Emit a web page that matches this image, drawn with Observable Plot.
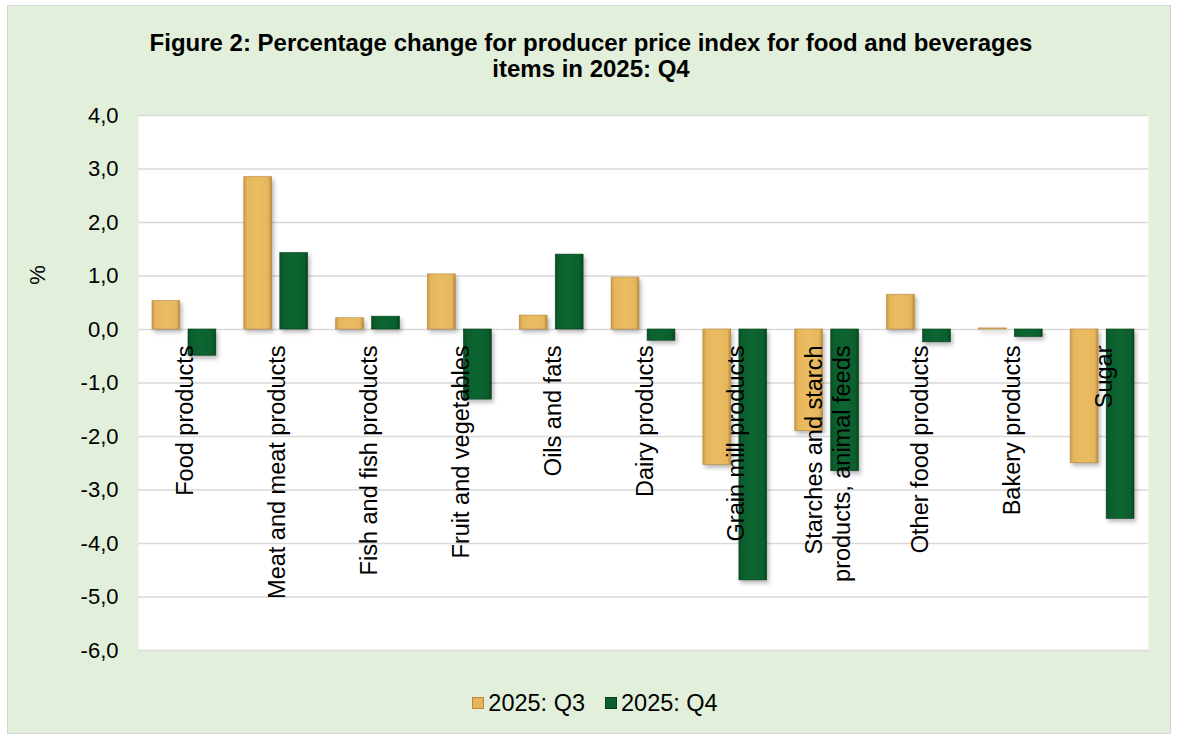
<!DOCTYPE html>
<html>
<head>
<meta charset="utf-8">
<script src="https://cdn.jsdelivr.net/npm/d3@7"></script>
<script src="https://cdn.jsdelivr.net/npm/@observablehq/plot@0.6"></script>
<style>
  body { margin: 0; background: #ffffff; font-family: "Liberation Sans", Arial, sans-serif; }
  #frame { position: absolute; left: 7px; top: 5px; width: 1162px; height: 727px; background: #e2efda; border: 1px solid #d4d4d4; }
  #title { position: absolute; left: 0; top: 30px; width: 1182px; text-align: center; font-weight: bold; font-size: 24px; line-height: 25.5px; color: #000; }
  #ylab { position: absolute; left: 28px; top: 262px; font-size: 22px; transform: rotate(-90deg); color: #000; }
  #chart { position: absolute; left: 0; top: 85px; }
  #legend { position: absolute; left: 0; top: 688px; width: 1190px; text-align: center; font-size: 23.5px; color: #000; }
  .item { display: inline-flex; align-items: center; margin: 0 10px; }
  .sw { display: inline-block; width: 12px; height: 12px; margin-right: 4px; box-sizing: border-box; }
  svg g[aria-label="bar"] rect { filter: drop-shadow(2px 3px 2px rgba(0,0,0,0.28)); }
</style>
</head>
<body>
<div id="frame"></div>
<div id="title">Figure 2: Percentage change for producer price index for food and beverages<br>items in 2025: Q4</div>
<div id="ylab">%</div>
<div id="chart"></div>
<div id="legend"></div>
<script>
const categories = ["Food products","Meat and meat products","Fish and fish products","Fruit and vegetables","Oils and fats","Dairy products","Grain mill products","Starches and starch products, animal feeds","Other food products","Bakery products","Sugar"];
const categoryLabels = ["Food products","Meat and meat products","Fish and fish products","Fruit and vegetables","Oils and fats","Dairy products","Grain mill products","Starches and starch\nproducts, animal feeds","Other food products","Bakery products","Sugar"];
const seriesNames = ["2025: Q3","2025: Q4"];
const q3 = [0.53, 2.85, 0.21, 1.03, 0.26, 0.97, -2.53, -1.90, 0.65, 0.02, -2.50];
const q4 = [-0.49, 1.43, 0.24, -1.31, 1.40, -0.21, -4.69, -2.65, -0.24, -0.14, -3.54];
const yTicks = [4, 3, 2, 1, 0, -1, -2, -3, -4, -5, -6];

const colors = {q3: "#e4b35a", q4: "#0b5f2d"};
const q3Data = categories.map((c, i) => ({cat: c, v: q3[i]}));
const q4Data = categories.map((c, i) => ({cat: c, v: q4[i]}));
const labelData = categories.map((c, i) => ({cat: c, label: categoryLabels[i]}));

const defs = () => {
  const ns = "http://www.w3.org/2000/svg";
  const d = document.createElementNS(ns, "defs");
  d.innerHTML = `
    <linearGradient id="gGold" x1="0" x2="1" y1="0" y2="0">
      <stop offset="0" stop-color="#c99a45"/>
      <stop offset="0.12" stop-color="#e6b65c"/>
      <stop offset="0.5" stop-color="#ebbd62"/>
      <stop offset="0.88" stop-color="#e6b65c"/>
      <stop offset="1" stop-color="#b88a3a"/>
    </linearGradient>
    <linearGradient id="gGreen" x1="0" x2="1" y1="0" y2="0">
      <stop offset="0" stop-color="#0a4f25"/>
      <stop offset="0.12" stop-color="#0b5f2d"/>
      <stop offset="0.5" stop-color="#0d6632"/>
      <stop offset="0.88" stop-color="#0b5f2d"/>
      <stop offset="1" stop-color="#08451f"/>
    </linearGradient>`;
  return d;
};

const fmt = d => d.toFixed(1).replace(".", ",");

const chart = Plot.plot({
  width: 1178,
  height: 600,
  marginTop: 30,
  marginBottom: 35,
  marginLeft: 138,
  marginRight: 30,
  style: {background: "transparent", fontFamily: "'Liberation Sans', Arial, sans-serif", color: "#000"},
  x: {type: "band", domain: categories, padding: 0, round: false, axis: null},
  y: {domain: [-6, 4], ticks: yTicks, tickFormat: fmt, tickSize: 0, tickPadding: 20, label: null, fontSize: 22},
  marks: [
    defs,
    Plot.frame({fill: "white", stroke: null}),
    Plot.gridY(yTicks, {stroke: "#d9d9d9", strokeOpacity: 1, strokeWidth: 1.5}),
    Plot.axisY({ticks: yTicks, tickFormat: fmt, tickSize: 0, tickPadding: 20, label: null, fontSize: 22}),
    Plot.barY(q3Data, {x: "cat", y: "v", fill: "url(#gGold)", stroke: "#b8893a", strokeWidth: 0.6, insetLeft: 14, insetRight: 50}),
    Plot.barY(q4Data, {x: "cat", y: "v", fill: "url(#gGreen)", stroke: "#064019", strokeWidth: 0.6, insetLeft: 50, insetRight: 14}),
    Plot.text(labelData, {x: "cat", y: () => 0, text: "label", rotate: -90, textAnchor: "end", lineAnchor: "middle", lineHeight: 1.2, dy: 16, fontSize: 23.5, fill: "#000"})
  ]
});
document.getElementById("chart").appendChild(chart);

const legend = document.getElementById("legend");
[[colors.q3, "#b8893a"], [colors.q4, "#064019"]].forEach((c, i) => {
  const item = document.createElement("span");
  item.className = "item";
  const sw = document.createElement("span");
  sw.className = "sw";
  sw.style.background = c[0];
  sw.style.border = "1px solid " + c[1];
  item.appendChild(sw);
  item.appendChild(document.createTextNode(seriesNames[i]));
  legend.appendChild(item);
});
</script>
</body>
</html>
